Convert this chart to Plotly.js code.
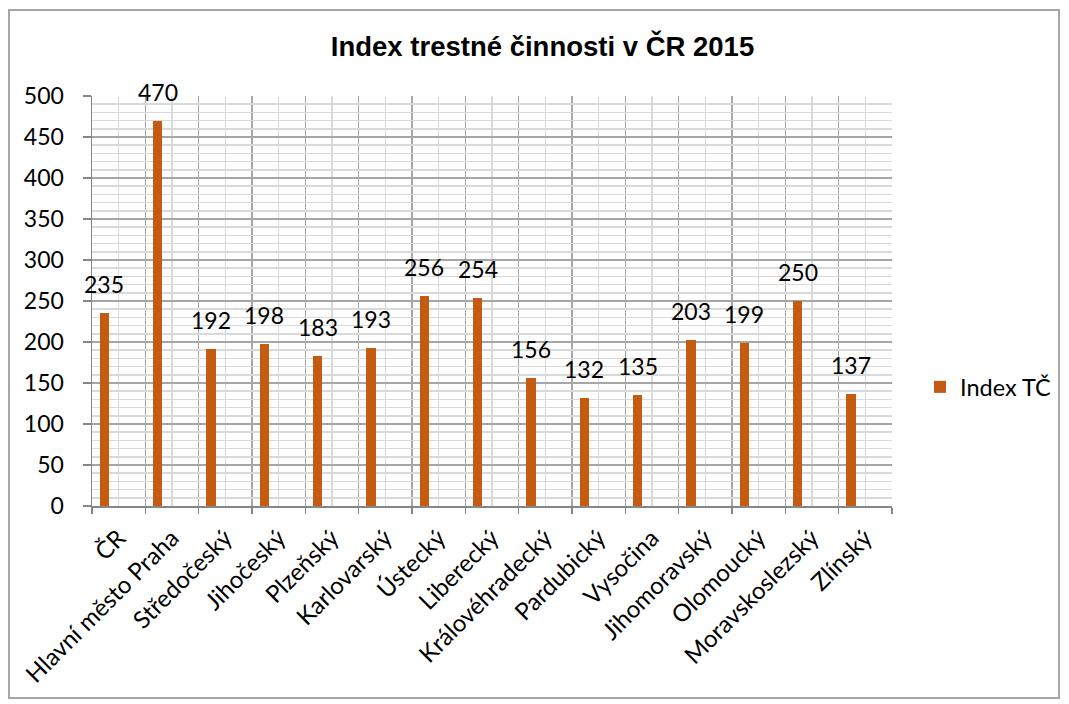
<!DOCTYPE html>
<html>
<head>
<meta charset="utf-8">
<script src="https://cdn.plot.ly/plotly-3.0.1.min.js"></script>
<style>
  html, body { margin: 0; padding: 0; background: #fff; }
  #chart { width: 1069px; height: 704px; }
  #frame { position: absolute; left: 8px; top: 9px; width: 1052px; height: 690px; border: 2px solid #a6a6a6; pointer-events: none; box-sizing: border-box; }
</style>
</head>
<body>
<div id="chart"></div>
<div id="frame"></div>
<script>
const categories = ["ČR", "Hlavní město Praha", "Středočeský", "Jihočeský", "Plzeňský", "Karlovarský", "Ústecký", "Liberecký", "Královéhradecký", "Pardubický", "Vysočina", "Jihomoravský", "Olomoucký", "Moravskoslezský", "Zlínský"];
const indexTC = [235, 470, 192, 198, 183, 193, 256, 254, 156, 132, 135, 203, 199, 250, 137];
const seriesName = "Index TČ";
const chartTitle = "Index trestné činnosti v ČR 2015";

const barWidth = 0.175;
const barOffset = -0.355;
const positions = categories.map((_, i) => i);
const boundaries = categories.map((_, i) => i - 0.5).concat([categories.length - 0.5]);
const labelFont = "Lato, 'Open Sans', sans-serif";

const trace = {
  type: "bar",
  x: positions,
  y: indexTC,
  name: seriesName,
  width: barWidth,
  offset: barOffset,
  marker: { color: "#c55a11" },
  showlegend: true
};

const annotations = indexTC.map((v, i) => ({
  x: positions[i] + barOffset + barWidth / 2,
  y: v,
  xref: "x", yref: "y",
  text: String(v),
  showarrow: false,
  xanchor: "center",
  yanchor: "bottom",
  yshift: 13,
  font: { family: labelFont, size: 23, color: "#000" }
}));

const layout = {
  width: 1069, height: 704,
  margin: { l: 92, r: 173, t: 96, b: 198 },
  paper_bgcolor: "#fff",
  plot_bgcolor: "#fff",
  title: {
    text: "<b>" + chartTitle + "</b>",
    font: { family: "Liberation Sans, Arial, sans-serif", size: 27.5, color: "#000" },
    x: 0.5075, xanchor: "center", y: 0.934, yanchor: "middle"
  },
  showlegend: true,
  legend: {
    x: 1.035, xanchor: "left", y: 0.29, yanchor: "middle",
    font: { family: labelFont, size: 23.5, color: "#000" },
    bgcolor: "rgba(0,0,0,0)"
  },
  annotations: annotations,
  xaxis: {
    type: "linear",
    range: [-0.5, categories.length - 0.5],
    tickmode: "array",
    tickvals: positions,
    ticktext: categories,
    tickangle: -45,
    ticks: "",
    showgrid: true,
    gridcolor: "#d9d9d9",
    gridwidth: 1.5,
    zeroline: false,
    showline: true,
    linecolor: "#868686",
    linewidth: 1.5,
    ticklabelstandoff: 7,
    tickfont: { family: labelFont, size: 24, color: "#000" },
    minor: {
      tickmode: "array",
      tickvals: boundaries,
      ticks: "outside",
      ticklen: 6,
      tickcolor: "#868686",
      tickwidth: 1.5,
      showgrid: true,
      gridcolor: "#a6a6a6",
      gridwidth: 1.5
    },
    fixedrange: true
  },
  yaxis: {
    range: [0, 500],
    tickmode: "linear",
    tick0: 0,
    dtick: 50,
    ticks: "outside",
    ticklen: 8,
    tickcolor: "#868686",
    tickwidth: 1.5,
    showgrid: true,
    gridcolor: "#a6a6a6",
    gridwidth: 1.5,
    zeroline: false,
    showline: true,
    linecolor: "#868686",
    linewidth: 1.5,
    ticklabelstandoff: 14,
    tickfont: { family: labelFont, size: 23, color: "#000" },
    minor: {
      dtick: 10,
      showgrid: true,
      gridcolor: "#d9d9d9",
      gridwidth: 1.5,
      ticks: ""
    },
    fixedrange: true
  },
  bargap: 0
};

Plotly.newPlot("chart", [trace], layout, { displayModeBar: false, staticPlot: true });
</script>
</body>
</html>
